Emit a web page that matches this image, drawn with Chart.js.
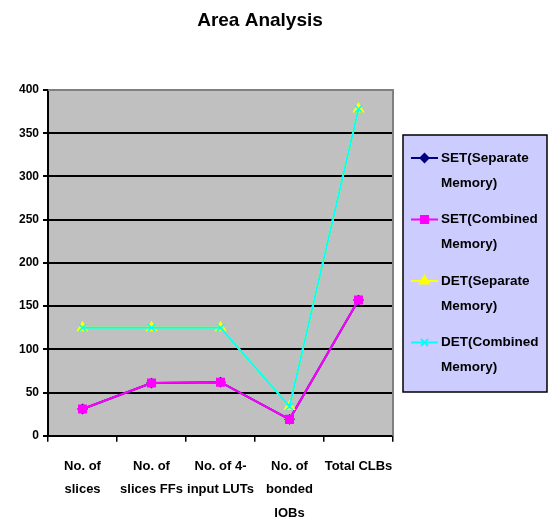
<!DOCTYPE html>
<html>
<head>
<meta charset="utf-8">
<script src="https://cdn.jsdelivr.net/npm/chart.js@4.4.0/dist/chart.umd.min.js"></script>
<style>
  html, body { margin: 0; padding: 0; background: #ffffff; }
  #wrap { width: 556px; height: 524px; position: relative; }
</style>
</head>
<body>
<div id="wrap"><canvas id="chart" width="556" height="524"></canvas></div>
<script>
// Categories (multi-line axis labels)
const categories = [
  ["No. of", "slices"],
  ["No. of", "slices FFs"],
  ["No. of 4-", "input LUTs"],
  ["No. of", "bonded", "IOBs"],
  ["Total CLBs"]
];

// Series values
const setSeparate = [31, 61, 62, 19, 157];
const setCombined = [31, 61, 62, 19, 157];
const detSeparate = [125, 125, 125, 34, 378];
const detCombined = [125, 125, 125, 34, 378];

// Series names
const seriesNames = [
  "SET(Separate Memory)",
  "SET(Combined Memory)",
  "DET(Separate Memory)",
  "DET(Combined Memory)"
];

const chartTitle = "Area Analysis";

// Y axis range
const yMin = 0, yMax = 400, yStep = 50;

const FONT = "'Liberation Sans', Arial, sans-serif";

// Grey plot background with a thin border on top and right
const plotBackground = {
  id: 'plotBackground',
  beforeDraw(chart) {
    const { ctx, chartArea: a } = chart;
    ctx.save();
    ctx.fillStyle = '#C0C0C0';
    ctx.fillRect(a.left, a.top, a.right - a.left, a.bottom - a.top);
    ctx.restore();
  },
  afterDatasetsDraw(chart) {
    const { ctx, chartArea: a } = chart;
    ctx.save();
    ctx.strokeStyle = '#808080';
    ctx.lineWidth = 2;
    ctx.beginPath();
    ctx.moveTo(a.left, a.top);
    ctx.lineTo(a.right, a.top);
    ctx.lineTo(a.right, a.bottom);
    ctx.stroke();
    ctx.restore();
  }
};

// Title centred over the whole canvas
const canvasTitle = {
  id: 'canvasTitle',
  afterDraw(chart) {
    const { ctx } = chart;
    ctx.save();
    ctx.font = 'bold 19px ' + FONT;
    ctx.fillStyle = '#000000';
    ctx.textAlign = 'center';
    ctx.textBaseline = 'middle';
    ctx.fillText(chartTitle, 260, 21);
    ctx.restore();
  }
};

// Boxed legend on the right, labels wrapped on two lines
const boxedLegend = {
  id: 'boxedLegend',
  afterDraw(chart) {
    const { ctx } = chart;
    const x0 = 403, y0 = 135, w = 144, h = 257;
    ctx.save();
    ctx.fillStyle = '#CCCCFF';
    ctx.fillRect(x0, y0, w, h);
    ctx.strokeStyle = '#000000';
    ctx.lineWidth = 1.5;
    ctx.strokeRect(x0, y0, w, h);
    ctx.font = 'bold 13.5px ' + FONT;
    ctx.textBaseline = 'middle';
    ctx.textAlign = 'left';
    chart.data.datasets.forEach((ds, i) => {
      const cy = 158 + i * 61.5;
      // line sample
      ctx.strokeStyle = ds.borderColor;
      ctx.lineWidth = 2;
      ctx.beginPath();
      ctx.moveTo(411, cy);
      ctx.lineTo(438, cy);
      ctx.stroke();
      // marker sample
      ctx.fillStyle = ds.pointBackgroundColor;
      ctx.strokeStyle = ds.pointBorderColor;
      Chart.helpers.drawPoint(ctx, {
        pointStyle: ds.pointStyle,
        radius: ds.pointRadius,
        rotation: 0,
        borderWidth: ds.pointBorderWidth || 1
      }, 424.5, cy);
      ctx.fillStyle = '#000000';
      const parts = ds.label.split(' ');
      ctx.fillText(parts[0], 441, cy);
      ctx.fillText(parts.slice(1).join(' '), 441, cy + 25);
    });
    ctx.restore();
  }
};

const datasets = [
  { label: seriesNames[0], data: setSeparate, borderColor: '#000080',
    pointStyle: 'rectRot', pointRadius: 4, pointBackgroundColor: '#000080',
    pointBorderColor: '#000080', order: 4 },
  { label: seriesNames[1], data: setCombined, borderColor: '#FF00FF',
    pointStyle: 'rect', pointRadius: 5, pointBackgroundColor: '#FF00FF',
    pointBorderColor: '#FF00FF', order: 3 },
  { label: seriesNames[2], data: detSeparate, borderColor: '#FFFF00',
    pointStyle: 'triangle', pointRadius: 5, pointBackgroundColor: '#FFFF00',
    pointBorderColor: '#FFFF00', order: 2 },
  { label: seriesNames[3], data: detCombined, borderColor: '#00FFFF',
    pointStyle: 'crossRot', pointRadius: 5, pointBackgroundColor: '#00FFFF',
    pointBorderColor: '#00FFFF', pointBorderWidth: 1.5, order: 1 }
].map(d => Object.assign({ borderWidth: 2, tension: 0, fill: false,
  pointHoverRadius: d.pointRadius }, d));

new Chart(document.getElementById('chart'), {
  type: 'line',
  data: { labels: categories, datasets },
  options: {
    responsive: false,
    animation: false,
    devicePixelRatio: 1,
    layout: { padding: { left: 15, right: 163, top: 90, bottom: -14 } },
    plugins: {
      legend: { display: false },
      tooltip: { enabled: false },
      title: { display: false }
    },
    scales: {
      x: {
        offset: true,
        grid: { offset: true, drawOnChartArea: false, drawTicks: true,
          tickLength: 6, color: '#000000', lineWidth: 1.5 },
        border: { color: '#000000', width: 2 },
        ticks: { color: '#000000', padding: 13, maxRotation: 0, autoSkip: false,
          font: { family: FONT, size: 13, weight: 'bold', lineHeight: 1.8 } }
      },
      y: {
        min: yMin, max: yMax,
        grid: { color: '#000000', lineWidth: 2, tickLength: 5 },
        border: { color: '#000000', width: 2 },
        ticks: { stepSize: yStep, color: '#000000', padding: 4,
          font: { family: FONT, size: 12, weight: 'bold' } }
      }
    }
  },
  plugins: [plotBackground, boxedLegend, canvasTitle]
});
</script>
</body>
</html>
